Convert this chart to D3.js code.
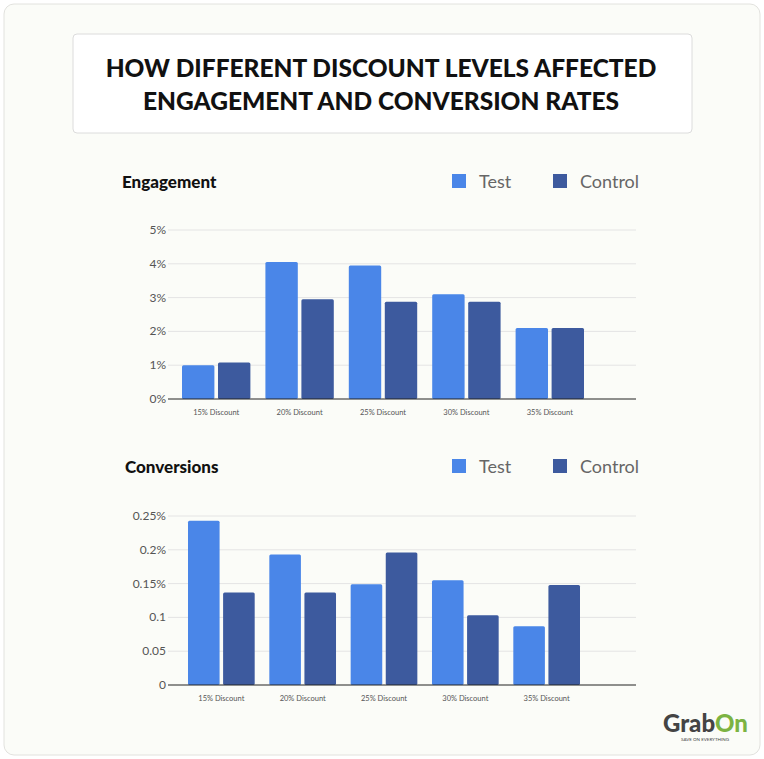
<!DOCTYPE html>
<html><head><meta charset="utf-8">
<script src="https://cdn.jsdelivr.net/npm/d3@7"></script>
<style>body{margin:0;background:#fff}</style></head>
<body><svg id="c" width="764" height="759"></svg>
<script>
const categories=["15% Discount","20% Discount","25% Discount","30% Discount","35% Discount"];
const engTest=[1.0,4.05,3.95,3.1,2.1];
const engControl=[1.08,2.95,2.88,2.88,2.1];
const convTest=[0.243,0.193,0.149,0.155,0.087];
const convControl=[0.137,0.137,0.196,0.103,0.148];
const engTicks=[0,1,2,3,4,5];
const convTicks=[0,0.05,0.1,0.15,0.2,0.25];
const convLabels=["0","0.05","0.1","0.15%","0.2%","0.25%"];
const seriesNames=["Test","Control"];
const colors=["#4A86E8","#3D5A9E"];

const svg=d3.select("#c");
svg.append("rect").attr("x",4).attr("y",4).attr("width",756).attr("height",751).attr("rx",10)
 .attr("fill","#fbfcf8").attr("stroke","#e2e2de");
svg.append("rect").attr("x",73).attr("y",34).attr("width",619).attr("height",99).attr("rx",4)
 .attr("fill","#fff").attr("stroke","#dcdcdc");
const t=svg.append("text").attr("text-anchor","middle").attr("font-family","Lato").attr("font-weight",900)
 .attr("font-size",24.5).attr("fill","#111");
t.append("tspan").attr("x",381).attr("y",77).text("HOW DIFFERENT DISCOUNT LEVELS AFFECTED");
t.append("tspan").attr("x",381).attr("y",110).text("ENGAGEMENT AND CONVERSION RATES");

function panel(o){
 const g=svg.append("g");
 g.append("text").attr("x",o.titleX).attr("y",o.titleY).attr("font-family","Lato").attr("font-weight",900)
  .attr("font-size",17).attr("fill","#111").text(o.title);
 seriesNames.forEach((s,i)=>{
  const lx=[452,553][i];
  g.append("rect").attr("x",lx).attr("y",o.titleY-14).attr("width",14).attr("height",14).attr("fill",colors[i]);
  g.append("text").attr("x",lx+27).attr("y",o.titleY).attr("font-family","Lato").attr("font-size",18)
   .attr("fill","#666").text(s);
 });
 const y=d3.scaleLinear().domain([0,o.max]).range([o.y0,o.y1]);
 const x=d3.scaleBand().domain(categories).range(o.xr).paddingInner(0.18).paddingOuter(0);
 const xs=d3.scaleBand().domain([0,1]).range([0,x.bandwidth()]).paddingInner(0.1);
 o.ticks.forEach((tk,i)=>{
  if(i>0) g.append("line").attr("x1",168).attr("x2",636).attr("y1",y(tk)).attr("y2",y(tk)).attr("stroke","#e4e4e4");
  g.append("text").attr("x",166).attr("y",y(tk)+4).attr("text-anchor","end").attr("font-family","Lato")
   .attr("font-size",12).attr("fill","#555").text(o.labels[i]);
 });
 categories.forEach((c,ci)=>{
  [o.a,o.b].forEach((arr,si)=>{
   g.append("rect").attr("x",x(c)+xs(si)).attr("width",xs.bandwidth()).attr("y",y(arr[ci]))
    .attr("height",y(0)-y(arr[ci])).attr("fill",colors[si]).attr("rx",1.5);
  });
  g.append("text").attr("x",x(c)+x.bandwidth()/2).attr("y",o.y0+16).attr("text-anchor","middle")
   .attr("font-family","Lato").attr("font-size",7.5).attr("fill","#555").text(c);
 });
 g.append("line").attr("x1",168).attr("x2",636).attr("y1",o.y0).attr("y2",o.y0).attr("stroke","#222");
}
panel({title:"Engagement",titleX:122,titleY:188,a:engTest,b:engControl,max:5,ticks:engTicks,
 labels:engTicks.map(d=>d+"%"),y0:399,y1:230,xr:[182,584]});
panel({title:"Conversions",titleX:125,titleY:473,a:convTest,b:convControl,max:0.25,ticks:convTicks,
 labels:convLabels,y0:685,y1:516,xr:[188,580]});
svg.append("text").attr("x",663).attr("y",732).attr("font-family","Lato").attr("font-weight",900)
 .attr("font-size",24).attr("fill","#444").text("Grab").append("tspan").attr("fill","#7cb342").text("On");
svg.append("text").attr("x",681).attr("y",741).attr("font-family","Lato").attr("font-size",4.5)
 .attr("fill","#444").text("SAVE ON EVERYTHING");
</script></body></html>
